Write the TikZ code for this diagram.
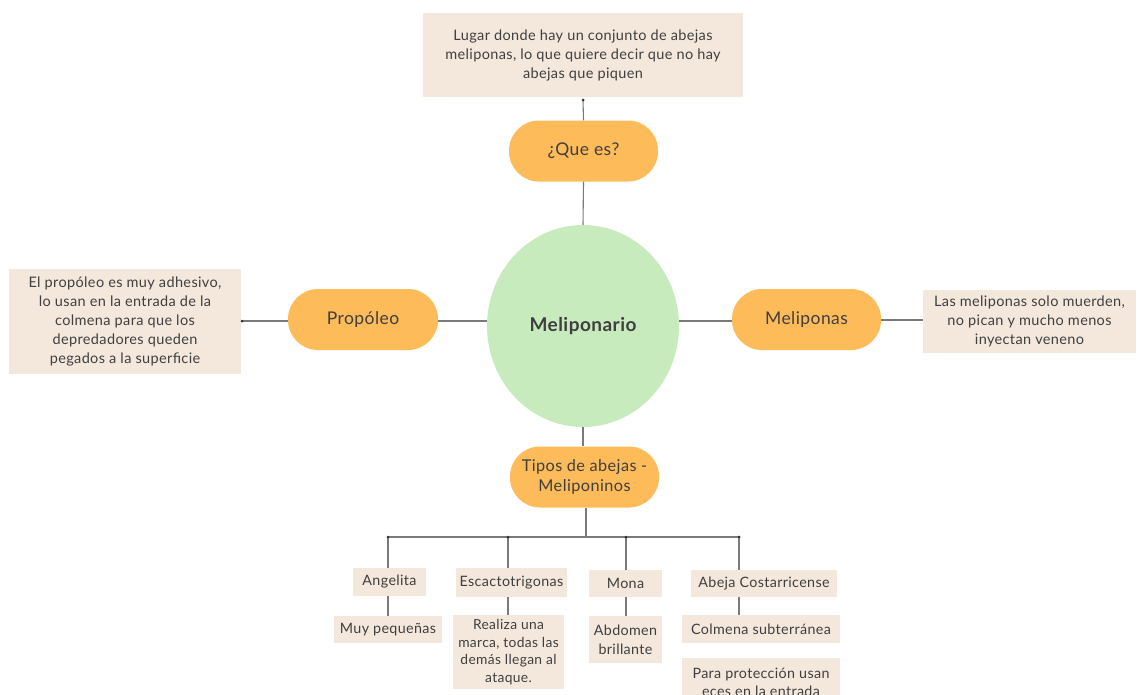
\documentclass[tikz,border=0pt]{standalone}
\usepackage{fontspec}
\setmainfont{Lato}[LetterSpace=2.5]
\usetikzlibrary{shapes.geometric}
\definecolor{beige}{HTML}{F4E8DD}
\definecolor{orangepill}{HTML}{FDBB5A}
\definecolor{mintgreen}{HTML}{C8EBBD}
\definecolor{inkgray}{HTML}{3F3F3F}
\definecolor{linegray}{HTML}{7A7A7A}
\begin{document}
\begin{tikzpicture}[x=1pt,y=-1pt,
  note/.style={rectangle, fill=beige, inner sep=0pt, align=center, text=inkgray,
    font=\fontsize{14.5}{19}\selectfont},
  pill/.style={rectangle, rounded corners=30pt, fill=orangepill, inner sep=0pt,
    minimum width=149pt, minimum height=61pt, align=center, text=inkgray,
    font=\fontsize{17.5}{21}\selectfont},
  leaf/.style={rectangle, fill=beige, inner sep=0pt, align=center, text=inkgray,
    font=\fontsize{14.3}{19}\selectfont},
  link/.style={draw=linegray, line width=1.1pt},
  joint/.style={circle, fill=black!80, inner sep=0pt, minimum size=3pt}
]
\useasboundingbox (0,0) rectangle (1139,694);
\clip (0,0) rectangle (1139,694);

% central topic
\node[ellipse, fill=mintgreen, minimum width=192pt, minimum height=202pt, inner sep=0pt,
  text=inkgray, font=\fontsize{19}{22}\selectfont\bfseries] (core) at (583,326) {\raisebox{4pt}{Meliponario}};

% main branches
\node[pill] (que) at (583.5,151) {¿Que es?};
\node[pill, minimum width=150pt] (prop) at (363,319.5) {Propóleo};
\node[pill] (meli) at (806.5,319.5) {Meliponas};
\node[pill, font=\fontsize{16.3}{20}\selectfont] (tipos) at (584.5,477) {Tipos de abejas -\\Meliponinos};

% explanations
\node[note, minimum width=320pt, minimum height=84pt] (queNote) at (583,55)
  {Lugar donde hay un conjunto de abejas\\meliponas, lo que quiere decir que no hay\\abejas que piquen};
\node[note, minimum width=232pt, minimum height=105pt] (propNote) at (125,321)
  {El propóleo es muy adhesivo,\\lo usan en la entrada de la\\colmena para que los\\depredadores queden\\pegados a la superficie};
\node[note, minimum width=213pt, minimum height=63pt] (meliNote) at (1029.5,321)
  {Las meliponas solo muerden,\\no pican y mucho menos\\inyectan veneno};

% connectors around the core
\coordinate (queDot) at (583,100);
\draw[link] (queDot) -- (que.north);
\draw[link] (que.south) -- (core.north);
\node[joint] at (queDot) {};

\coordinate (propDot) at (242,321);
\draw[link] (propDot) -- (prop.west |- propDot);
\draw[link] (prop.east |- 0,321) -- (core.west |- 0,321);
\node[joint] at (propDot) {};

\draw[link] (core.east |- 0,321) -- (meli.west |- 0,321);
\draw[link] (meli.east |- 0,320) -- (meliNote.west |- 0,320);

\draw[link] (core.south) -- (tipos.north -| core.south);

% bee types
\node[leaf, minimum width=73pt, minimum height=28pt] (ang) at (389.5,582) {Angelita};
\node[leaf, minimum width=111pt, minimum height=29pt] (esc) at (511.5,582.5) {Escactotrigonas};
\node[leaf, minimum width=73pt, minimum height=27pt] (mona) at (625.5,583.5) {Mona};
\node[leaf, minimum width=146pt, minimum height=27pt] (cost) at (764,583.5) {Abeja Costarricense};

\node[leaf, minimum width=108pt, minimum height=27pt] (muy) at (388,629.5) {Muy pequeñas};
\node[leaf, minimum width=111pt, minimum height=74pt, font=\fontsize{13.8}{17.5}\selectfont] (real) at (508.5,652)
  {Realiza una\\marca, todas las\\demás llegan al\\ataque.};
\node[leaf, minimum width=73pt, minimum height=47pt] (abd) at (625.5,639.5) {Abdomen\\brillante};
\node[leaf, minimum width=158pt, minimum height=28pt] (colm) at (761,629) {Colmena subterránea};
\node[leaf, minimum width=158pt, minimum height=48pt, anchor=north, font=\fontsize{14.3}{18}\selectfont] (para) at (761,658)
  {Para protección usan\\eces en la entrada};

% tree connectors
\coordinate (hub) at (586,537);
\coordinate (b1) at (388,537);
\coordinate (b2) at (508,537);
\coordinate (b3) at (626,537);
\coordinate (b4) at (739,537);
\draw[link] (tipos.south -| hub) -- (hub);
\draw[link] (b1) -- (b4);
\draw[link] (b1) -- (b1 |- ang.north);
\draw[link] (b2) -- (b2 |- esc.north);
\draw[link] (b3) -- (b3 |- mona.north);
\draw[link] (b4) -- (b4 |- cost.north);
\draw[link] (b1 |- ang.south) -- (b1 |- muy.north);
\draw[link] (b2 |- esc.south) -- (b2 |- real.north);
\draw[link] (b3 |- mona.south) -- (b3 |- abd.north);
\draw[link] (b4 |- cost.south) -- (b4 |- colm.north);
\foreach \p in {b1,b2,b3,b4} \node[joint] at (\p) {};
\end{tikzpicture}
\end{document}
